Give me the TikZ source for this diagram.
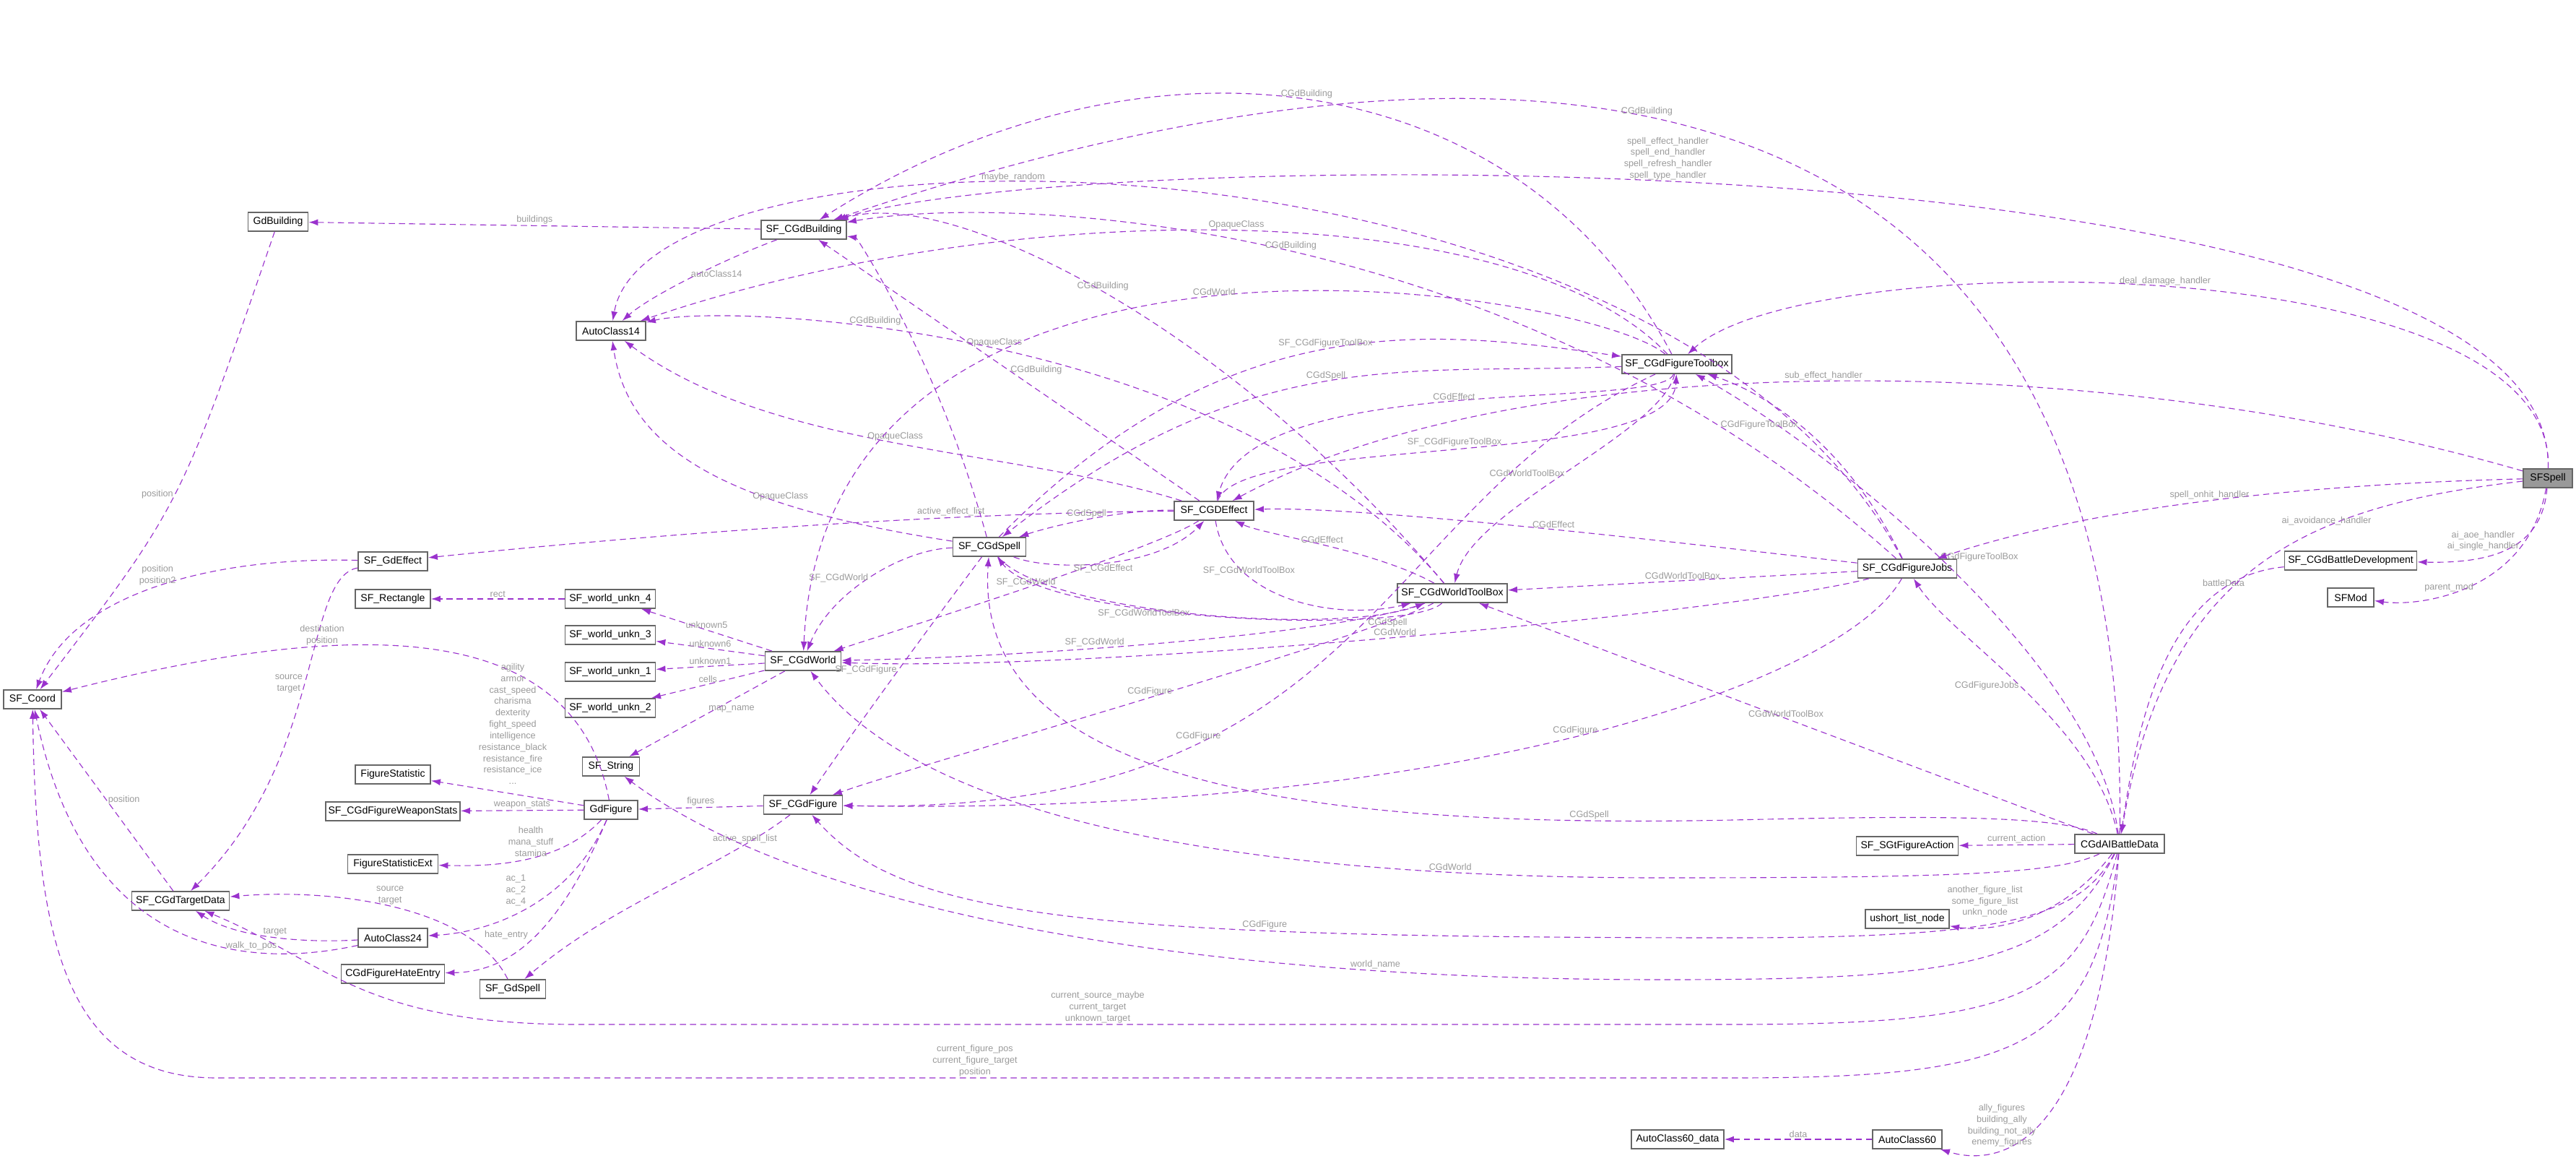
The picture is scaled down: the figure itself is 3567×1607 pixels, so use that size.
\documentclass[tikz,border=0pt]{standalone}
\usepackage{fontspec}
\setmainfont{Liberation Sans}
\usetikzlibrary{arrows.meta}
\definecolor{depcol}{HTML}{9A32CD}
\definecolor{lblcol}{HTML}{9A9A9A}
\definecolor{boxcol}{HTML}{666666}
\begin{document}
\begin{tikzpicture}[x=0.01cm,y=-0.01cm,
	cls/.style={draw=boxcol,fill=white,line width=0.5pt,minimum height=0.26cm,inner sep=0pt,font=\fontsize{4}{4.8}\selectfont},
	spellcls/.style={cls,fill=black!40},
	lbl/.style={text=lblcol,font=\fontsize{3.6}{4.5}\selectfont,align=center,inner sep=0.5pt},
	dep/.style={draw=depcol,line width=0.32pt,dash pattern=on 2.4pt off 1.6pt,-{Latex[length=0.13cm,width=0.09cm]}}]
	\useasboundingbox (0,0) rectangle (3567,1607);
	
	\node[spellcls,minimum width=0.68cm] (spell) at (3528,662) {SFSpell};
	\node[cls,minimum width=1.83cm] (bdev) at (3255,776) {SF\_CGdBattleDevelopment};
	\node[cls,minimum width=0.64cm] (mod) at (3255,827) {SFMod};
	\node[cls,minimum width=1.37cm] (jobs) at (2641,787) {SF\_CGdFigureJobs};
	\node[cls,minimum width=1.24cm] (ai) at (2935,1168) {CGdAIBattleData};
	\node[cls,minimum width=1.41cm] (act) at (2641,1171) {SF\_SGtFigureAction};
	\node[cls,minimum width=1.16cm] (ushort) at (2641,1272) {ushort\_list\_node};
	\node[cls,minimum width=0.96cm] (acsixty) at (2641,1577) {AutoClass60};
	\node[cls,minimum width=1.28cm] (acsixtyd) at (2323,1577) {AutoClass60\_data};
	\node[cls,minimum width=1.52cm] (ftb) at (2322,504) {SF\_CGdFigureToolbox};
	\node[cls,minimum width=1.52cm] (wtb) at (2011,821) {SF\_CGdWorldToolBox};
	\node[cls,minimum width=1.10cm] (eff) at (1681,707) {SF\_CGDEffect};
	\node[cls,minimum width=1.01cm] (cspell) at (1370,757) {SF\_CGdSpell};
	\node[cls,minimum width=1.18cm] (cbld) at (1113,318) {SF\_CGdBuilding};
	\node[cls,minimum width=1.05cm] (cworld) at (1112,915) {SF\_CGdWorld};
	\node[cls,minimum width=1.09cm] (cfig) at (1112,1114) {SF\_CGdFigure};
	\node[cls,minimum width=0.96cm] (acfourteen) at (846,458) {AutoClass14};
	\node[cls,minimum width=0.83cm] (gdb) at (385,307) {GdBuilding};
	\node[cls,minimum width=0.96cm] (gdeff) at (544,777) {SF\_GdEffect};
	\node[cls,minimum width=1.04cm] (rect) at (544,829) {SF\_Rectangle};
	\node[cls,minimum width=1.25cm] (wufour) at (845,829) {SF\_world\_unkn\_4};
	\node[cls,minimum width=1.25cm] (wuthree) at (845,879) {SF\_world\_unkn\_3};
	\node[cls,minimum width=1.25cm] (wuone) at (845,930) {SF\_world\_unkn\_1};
	\node[cls,minimum width=1.25cm] (wutwo) at (845,980) {SF\_world\_unkn\_2};
	\node[cls,minimum width=0.79cm] (str) at (846,1061) {SF\_String};
	\node[cls,minimum width=1.04cm] (fstat) at (544,1072) {FigureStatistic};
	\node[cls,minimum width=1.86cm] (wstat) at (544,1123) {SF\_CGdFigureWeaponStats};
	\node[cls,minimum width=0.74cm] (gdfig) at (846,1121) {GdFigure};
	\node[cls,minimum width=1.25cm] (fext) at (544,1196) {FigureStatisticExt};
	\node[cls,minimum width=1.35cm] (td) at (250,1247) {SF\_CGdTargetData};
	\node[cls,minimum width=0.96cm] (actwenty) at (544,1298) {AutoClass24};
	\node[cls,minimum width=1.43cm] (hate) at (544,1348) {CGdFigureHateEntry};
	\node[cls,minimum width=0.91cm] (gspell) at (710,1369) {SF\_GdSpell};
	\node[cls,minimum width=0.80cm] (coord) at (45,968) {SF\_Coord};
	
	% left part
	\draw[dep] (cbld) -- node[lbl,above] {buildings} (gdb);
	\draw[dep] (cbld) .. controls (1000,360) and (900,410) .. node[lbl,above right] {autoClass14} (acfourteen);
	\draw[dep] (gdb) .. controls (250,700) .. node[lbl,left] {position} (coord);
	\draw[dep] (gdeff) .. controls (300,770) and (100,820) .. node[lbl,above] {position\\position2} (coord);
	\draw[dep] (gdeff) .. controls (420,800) and (450,1050) .. node[lbl,left] {source\\target} (td);
	\draw[dep] (eff) .. controls (1300,710) and (900,740) .. node[lbl,above,pos=0.3] {active\_effect\_list} (gdeff);
	\draw[dep] (wufour) -- node[lbl,above] {rect} (rect);
	\draw[dep] (cworld) -- node[lbl,above] {unknown5} (wufour);
	\draw[dep] (cworld) -- node[lbl,above] {unknown6} (wuthree);
	\draw[dep] (cworld) -- node[lbl,above] {unknown1} (wuone);
	\draw[dep] (cworld) -- node[lbl,above] {cells} (wutwo);
	\draw[dep] (cworld) -- node[lbl,above right] {map\_name} (str);
	\draw[dep] (gdfig) .. controls (800,880) and (550,840) .. node[lbl,above,pos=0.7] {destination\\position} (coord);
	\draw[dep] (gdfig) -- (fstat);
	\node[lbl] at (710,1002) {agility\\armor\\cast\_speed\\charisma\\dexterity\\fight\_speed\\intelligence\\resistance\_black\\resistance\_fire\\resistance\_ice\\...};
	\draw[dep] (gdfig) -- node[lbl,above] {weapon\_stats} (wstat);
	\draw[dep] (gdfig) .. controls (780,1190) and (700,1200) .. node[lbl,above] {health\\mana\_stuff\\stamina} (fext);
	\draw[dep] (gdfig) .. controls (790,1250) and (680,1290) .. node[lbl,above left] {ac\_1\\ac\_2\\ac\_4} (actwenty);
	\draw[dep] (gdfig) .. controls (770,1300) and (700,1345) .. node[lbl,above left] {hate\_entry} (hate);
	\draw[dep] (cfig) -- node[lbl,above] {figures} (gdfig);
	\draw[dep] (cfig) .. controls (1000,1200) and (850,1250) .. node[lbl,above,pos=0.2] {active\_spell\_list} (gspell);
	\draw[dep] (td) -- node[lbl,right] {position} (coord);
	\draw[dep] (actwenty) .. controls (430,1305) and (330,1300) .. node[lbl,above] {target} (td);
	\draw[dep] (actwenty) .. controls (350,1340) and (120,1330) .. node[lbl,above,pos=0.3] {walk\_to\_pos} (coord);
	\draw[dep] (gspell) .. controls (650,1250) and (450,1230) .. node[lbl,above] {source\\target} (td);
	
	% CGdAIBattleData
	\draw[dep] (ai) .. controls (2880,1380) and (2800,1418) .. (2400,1418) -- node[lbl,above,pos=0.55] {current\_source\_maybe\\current\_target\\unknown\_target} (800,1418) .. controls (500,1418) and (450,1330) .. (td);
	\draw[dep] (ai) .. controls (2900,1450) and (2800,1492) .. (2400,1492) -- node[lbl,above,pos=0.5] {current\_figure\_pos\\current\_figure\_target\\position} (300,1492) .. controls (90,1492) and (50,1300) .. (coord);
	\draw[dep] (ai) .. controls (2850,1340) and (2700,1356) .. (2300,1356) .. controls (1600,1356) and (1100,1250) .. node[lbl,above,pos=0.2] {world\_name} (str);
	\draw[dep] (ai) .. controls (2880,1270) and (2780,1298) .. (2400,1298) .. controls (1500,1298) and (1250,1270) .. node[lbl,above,pos=0.3] {CGdFigure} (cfig);
	\draw[dep] (ai) .. controls (2850,1210) and (2700,1215) .. (2300,1215) .. controls (1600,1215) and (1250,1100) .. node[lbl,above,pos=0.15] {CGdWorld} (cworld);
	\draw[dep] (ai) .. controls (2850,1130) and (2700,1128) .. (2400,1135) .. controls (1700,1150) and (1350,1050) .. node[lbl,above,pos=0.1] {CGdSpell} (cspell);
	\draw[dep] (ai) -- node[lbl,above] {current\_action} (act);
	\draw[dep] (ai) .. controls (2850,1280) and (2750,1290) .. node[lbl,above left] {another\_figure\_list\\some\_figure\_list\\unkn\_node} (ushort);
	\draw[dep] (ai) .. controls (2900,1620) and (2750,1610) .. node[lbl,left] {ally\_figures\\building\_ally\\building\_not\_ally\\enemy\_figures} (acsixty);
	\draw[dep] (acsixty) -- node[lbl,above] {data} (acsixtyd);
	\draw[dep] (ai) .. controls (2900,1000) and (2700,880) .. node[lbl,left] {CGdFigureJobs} (jobs);
	\draw[dep] (ai) -- node[lbl,above] {CGdWorldToolBox} (wtb);
	\draw[dep] (ai) .. controls (2900,900) and (2500,600) .. node[lbl,right] {CGdFigureToolBox} (ftb);
	\draw[dep] (ai) .. controls (2950,200) and (2300,-80) .. node[lbl,above,pos=0.6] {CGdBuilding} (cbld);
	
	% SFSpell
	\draw[dep] (bdev) .. controls (3000,800) and (2960,1000) .. node[lbl,above,pos=0.2] {battleData} (ai);
	\draw[dep] (spell) .. controls (3520,760) and (3450,780) .. node[lbl,left,pos=0.4] {ai\_aoe\_handler\\ai\_single\_handler} (bdev);
	\draw[dep] (spell) .. controls (3500,820) and (3350,840) .. node[lbl,above,pos=0.6] {parent\_mod} (mod);
	\draw[dep] (spell) .. controls (3200,670) and (2900,700) .. node[lbl,above] {spell\_onhit\_handler} (jobs);
	\draw[dep] (spell) .. controls (3200,700) and (3000,780) .. node[lbl,above,pos=0.35] {ai\_avoidance\_handler} (ai);
	\draw[dep] (spell) .. controls (2900,480) and (2100,480) .. node[lbl,above] {sub\_effect\_handler} (eff);
	\draw[dep] (spell) .. controls (3540,340) and (2500,340) .. node[lbl,above] {deal\_damage\_handler} (ftb);
	\draw[dep] (spell) .. controls (3540,180) and (1500,200) .. node[lbl,above,pos=0.55] {spell\_effect\_handler\\spell\_end\_handler\\spell\_refresh\_handler\\spell\_type\_handler} (cbld);
	
	% AutoClass14
	\draw[dep] (jobs) .. controls (2300,150) and (900,150) .. node[lbl,above,pos=0.6] {maybe\_random} (acfourteen);
	\draw[dep] (ftb) .. controls (2100,270) and (1400,270) .. node[lbl,above] {OpaqueClass} (acfourteen);
	\draw[dep] (wtb) .. controls (1700,450) and (1007,419) .. node[lbl,above] {OpaqueClass} (acfourteen);
	\draw[dep] (eff) .. controls (1400,620) and (1072,625) .. node[lbl,above] {OpaqueClass} (acfourteen);
	\draw[dep] (cspell) .. controls (1000,700) and (870,620) .. node[lbl,above,pos=0.3] {OpaqueClass} (acfourteen);
	
	% SF_CGdBuilding
	\draw[dep] (ftb) .. controls (2100,80) and (1575,24) .. node[lbl,above] {CGdBuilding} (cbld);
	\draw[dep] (jobs) .. controls (2100,300) and (1400,268) .. node[lbl,above] {CGdBuilding} (cbld);
	\draw[dep] (wtb) .. controls (1700,450) and (1319,259) .. node[lbl,above] {CGdBuilding} (cbld);
	\draw[dep] (cspell) .. controls (1300,500) and (1186,329) .. node[lbl,left] {CGdBuilding} (cbld);
	\draw[dep] (eff) -- node[lbl,right] {CGdBuilding} (cbld);
	
	% toolboxes and effect
	\draw[dep] (cspell) .. controls (1700,420) and (1985,457) .. node[lbl,above] {SF\_CGdFigureToolBox} (ftb);
	\draw[dep] (ftb) .. controls (1950,520) and (1735,472) .. node[lbl,above] {CGdSpell} (cspell);
	\draw[dep] (ftb) .. controls (2300,570) and (1735,510) .. node[lbl,above] {CGdEffect} (eff);
	\draw[dep] (eff) .. controls (1720,600) and (2315,651) .. node[lbl,above] {SF\_CGdFigureToolBox} (ftb);
	\draw[dep] (ftb) .. controls (2300,600) and (2039,704) .. node[lbl,left] {CGdWorldToolBox} (wtb);
	\draw[dep] (ftb) .. controls (2200,400) and (1144,232) .. node[lbl,above] {CGdWorld} (cworld);
	\draw[dep] (jobs) .. controls (2550,600) and (2429,539) .. node[lbl,left] {CGdFigureToolBox} (ftb);
	\draw[dep] (ftb) .. controls (1900,700) and (1900,1130) .. node[lbl,above,pos=0.7] {CGdFigure} (cfig);
	\draw[dep] (eff) .. controls (1550,705) and (1450,730) .. node[lbl,above] {CGdSpell} (cspell);
	\draw[dep] (cspell) .. controls (1450,790) and (1600,790) .. node[lbl,below] {SF\_CGdEffect} (eff);
	\draw[dep] (wtb) .. controls (1900,760) and (1750,740) .. node[lbl,above] {CGdEffect} (eff);
	\draw[dep] (jobs) .. controls (2400,760) and (1900,700) .. node[lbl,above] {CGdEffect} (eff);
	\draw[dep] (cspell) .. controls (1250,760) and (1150,820) .. node[lbl,left] {SF\_CGdWorld} (cworld);
	\draw[dep] (cspell) .. controls (1300,850) and (1190,1000) .. node[lbl,left] {SF\_CGdFigure} (cfig);
	\draw[dep] (eff) .. controls (1600,760) and (1250,870) .. node[lbl,above] {SF\_CGdWorld} (cworld);
	\draw[dep] (eff) .. controls (1700,830) and (1850,860) .. node[lbl,above,pos=0.3] {SF\_CGdWorldToolBox} (wtb);
	\draw[dep] (cspell) .. controls (1450,850) and (1850,880) .. node[lbl,below,pos=0.4] {SF\_CGdWorldToolBox} (wtb);
	\draw[dep] (wtb) .. controls (1950,880) and (1450,860) .. node[lbl,below,pos=0.2] {CGdSpell} (cspell);
	\draw[dep] (wtb) .. controls (1850,880) and (1400,910) .. node[lbl,above,pos=0.6] {SF\_CGdWorld} (cworld);
	\draw[dep] (wtb) .. controls (1900,880) and (1300,1050) .. node[lbl,above] {CGdFigure} (cfig);
	\draw[dep] (jobs) .. controls (2400,850) and (1500,930) .. node[lbl,above] {CGdWorld} (cworld);
	\draw[dep] (jobs) .. controls (2550,950) and (2000,1130) .. node[lbl,above] {CGdFigure} (cfig);
	\draw[dep] (jobs) -- node[lbl,above] {CGdWorldToolBox} (wtb);
\end{tikzpicture}
\end{document}
